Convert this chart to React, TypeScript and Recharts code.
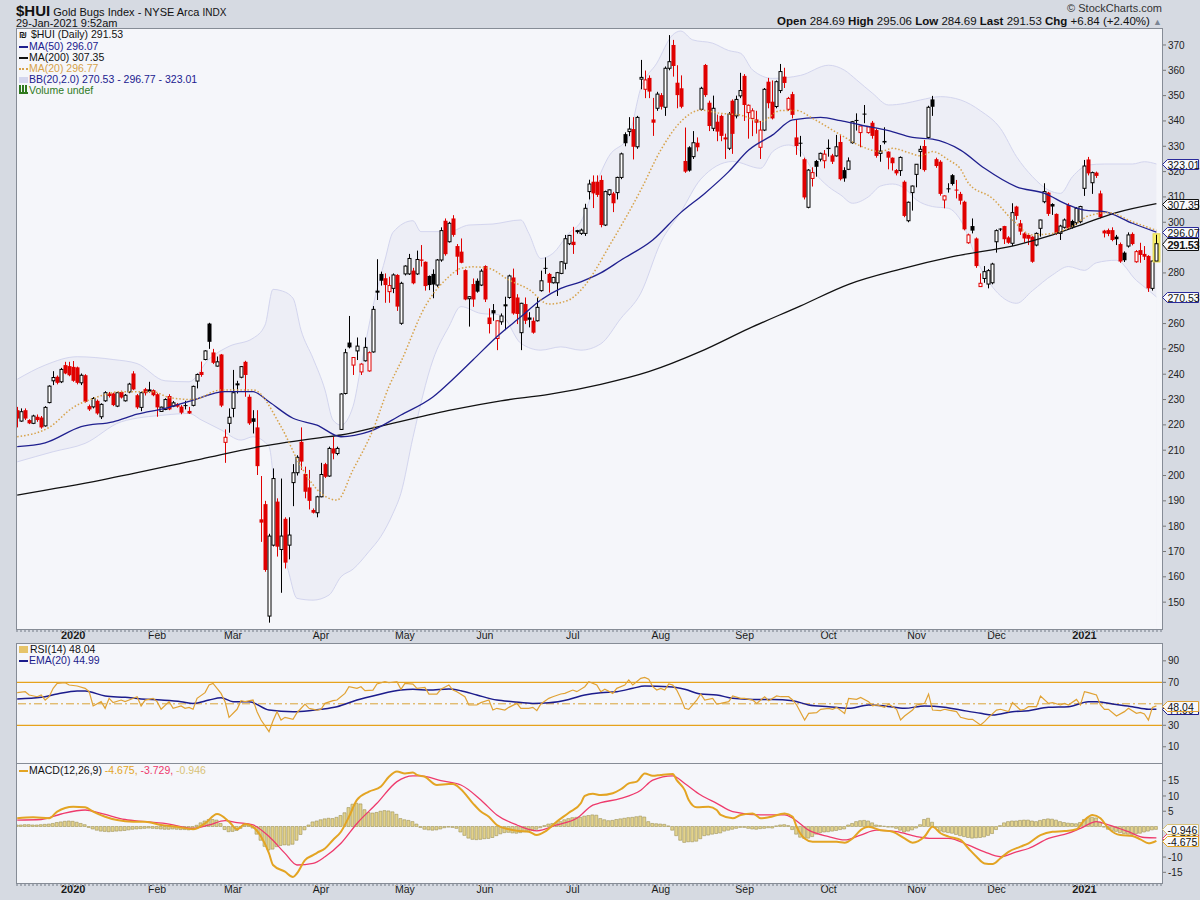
import React from "react";
import { ComposedChart, Bar, Line, Area, XAxis, YAxis, ReferenceLine } from "recharts";

const FONT = '"Liberation Sans", Arial, sans-serif';
const BG = "#d6dae2";
const PANEL = "#f5f6fa";
const FRAME = "#868c96";

// daily [open, high, low, close], 11-Dec-2019 .. 29-Jan-2021
const candles = [
  [225.8, 227.1, 219.0, 222.5], [221.5, 226.5, 221.2, 225.2], [225.8, 226.5, 221.9, 222.5], [221.9, 222.2, 220.3, 220.6], [220.6, 224.0, 220.3, 223.5],
  [223.2, 224.1, 221.2, 221.9], [222.9, 223.5, 218.5, 219.0], [219.6, 227.4, 219.3, 226.9], [228.8, 235.6, 228.5, 235.3], [237.4, 241.2, 235.7, 238.7],
  [239.0, 239.5, 236.0, 236.6], [237.0, 242.5, 236.5, 241.9], [243.6, 244.9, 240.0, 240.3], [243.2, 244.9, 239.2, 239.6], [242.9, 245.2, 237.0, 237.4],
  [242.7, 243.0, 236.0, 236.6], [236.6, 240.3, 235.7, 239.6], [239.6, 240.0, 228.8, 229.1], [227.4, 228.0, 225.5, 226.1], [227.1, 231.0, 226.5, 230.4],
  [229.5, 230.0, 224.0, 224.5], [223.2, 228.5, 222.3, 228.1], [229.5, 233.3, 229.1, 232.7], [232.4, 233.0, 230.8, 231.4], [232.4, 232.7, 227.4, 227.8],
  [227.4, 233.0, 227.0, 232.7], [233.0, 233.5, 230.4, 230.8], [229.5, 232.2, 229.2, 231.7], [233.0, 236.6, 232.5, 236.1], [240.3, 241.2, 233.7, 234.0],
  [231.7, 232.2, 226.3, 226.9], [226.9, 233.1, 225.4, 232.7], [234.1, 234.6, 231.6, 232.5], [234.0, 237.0, 232.7, 233.1], [233.7, 234.0, 231.3, 231.7],
  [232.1, 232.5, 223.2, 226.9], [225.3, 227.2, 225.1, 227.0], [226.1, 230.5, 225.8, 230.0], [231.4, 232.1, 225.8, 226.1], [227.4, 229.4, 227.0, 228.7],
  [228.2, 228.6, 226.8, 227.2], [227.2, 227.8, 224.2, 224.8], [227.8, 229.5, 226.1, 227.6], [225.5, 227.1, 224.3, 224.5], [227.7, 235.5, 227.3, 235.2],
  [237.3, 240.3, 234.4, 239.9], [240.9, 245.0, 239.0, 239.7], [245.8, 249.5, 245.5, 249.2], [260.0, 260.3, 250.0, 252.8], [248.6, 250.0, 244.0, 244.5],
  [243.2, 247.0, 243.0, 244.9], [247.8, 248.0, 227.0, 227.6], [213.1, 218.2, 205.0, 215.1], [220.6, 226.5, 216.9, 223.0], [226.5, 241.7, 223.0, 232.7],
  [236.1, 237.4, 232.4, 236.2], [238.8, 243.2, 238.4, 243.0], [244.9, 245.3, 231.1, 239.7], [231.1, 232.0, 220.0, 220.6], [222.6, 225.8, 216.6, 221.2],
  [219.0, 225.8, 200.2, 203.7], [182.7, 199.8, 173.8, 181.4], [188.7, 190.0, 162.0, 162.7], [144.5, 177.0, 141.9, 176.1], [172.5, 202.8, 172.0, 198.8],
  [189.7, 191.0, 168.0, 171.9], [170.8, 198.8, 153.7, 176.1], [182.9, 183.5, 163.3, 165.6], [172.5, 183.5, 166.9, 176.5], [197.2, 204.5, 187.9, 201.1],
  [201.1, 208.0, 200.0, 207.2], [213.3, 219.0, 202.2, 205.5], [200.6, 203.5, 191.0, 193.6], [195.3, 202.2, 186.6, 190.0], [186.4, 187.0, 185.0, 185.3],
  [185.3, 192.0, 183.5, 191.6], [191.6, 205.0, 191.4, 200.4], [204.5, 205.0, 199.0, 199.5], [199.8, 211.4, 199.5, 210.7], [210.7, 215.3, 206.4, 208.7],
  [208.7, 211.4, 208.0, 210.7], [218.2, 232.5, 218.0, 232.2], [232.4, 250.0, 232.0, 248.5], [252.5, 263.0, 250.2, 250.6], [243.6, 246.7, 239.7, 246.6],
  [249.2, 254.5, 245.6, 251.1], [240.9, 244.3, 239.7, 244.0], [245.3, 254.5, 245.0, 250.6], [241.3, 249.0, 241.0, 248.5], [248.8, 266.9, 248.5, 265.6],
  [273.0, 285.4, 269.3, 272.2], [279.6, 280.5, 275.0, 276.9], [277.9, 279.8, 268.2, 275.2], [272.6, 278.5, 268.2, 275.0], [273.9, 279.8, 272.0, 279.2],
  [279.2, 279.5, 265.0, 266.7], [260.1, 276.5, 259.5, 275.9], [279.6, 283.0, 279.0, 282.7], [279.6, 287.5, 279.2, 285.7], [280.9, 282.0, 275.5, 275.9],
  [279.6, 288.8, 279.2, 285.3], [285.3, 291.0, 282.5, 284.8], [284.4, 284.5, 273.0, 274.8], [278.8, 279.0, 273.2, 275.2], [279.6, 281.4, 270.0, 275.4],
  [275.2, 285.5, 274.5, 285.1], [285.1, 298.0, 284.4, 296.7], [300.6, 301.5, 286.8, 287.4], [292.3, 300.2, 292.0, 299.6], [301.5, 302.8, 294.3, 295.0],
  [290.6, 291.4, 279.2, 286.4], [288.4, 293.6, 283.8, 284.0], [281.1, 281.4, 269.2, 269.5], [269.8, 270.8, 258.8, 270.6], [275.6, 277.8, 266.6, 269.5],
  [276.9, 277.8, 272.2, 272.6], [275.2, 281.5, 274.8, 280.7], [282.7, 283.0, 268.5, 269.5], [262.4, 266.0, 256.1, 259.8], [265.3, 267.7, 261.1, 264.0],
  [254.1, 261.2, 249.5, 261.1], [260.7, 264.0, 259.5, 263.0], [267.6, 270.6, 257.4, 266.8], [270.3, 279.3, 269.8, 278.8], [278.2, 281.7, 263.5, 264.0],
  [270.3, 271.6, 259.8, 263.8], [256.4, 268.2, 249.5, 268.0], [267.7, 270.3, 259.8, 261.1], [262.4, 264.5, 258.5, 261.5], [261.1, 262.4, 256.0, 256.4],
  [261.1, 270.3, 260.8, 266.4], [273.0, 280.9, 272.6, 276.9], [282.0, 286.1, 279.6, 281.7], [279.6, 280.0, 272.2, 276.1], [276.1, 278.5, 275.8, 278.2],
  [276.1, 280.4, 270.9, 280.1], [279.8, 284.7, 279.5, 284.4], [283.8, 295.0, 281.4, 293.5], [291.5, 295.0, 291.0, 294.8], [292.3, 298.2, 287.5, 291.0],
  [296.3, 297.0, 295.5, 296.7], [295.6, 297.5, 295.0, 296.9], [295.6, 307.3, 294.6, 305.5], [312.1, 316.8, 309.0, 315.1], [316.0, 318.5, 305.6, 311.4],
  [316.0, 318.5, 310.0, 310.8], [316.7, 318.5, 298.0, 298.9], [298.9, 312.5, 298.5, 312.1], [311.0, 313.0, 310.5, 312.8], [311.4, 312.0, 304.0, 307.5],
  [311.7, 318.0, 309.0, 317.7], [317.7, 327.5, 317.0, 327.0], [334.8, 335.5, 330.0, 331.2], [335.8, 341.5, 334.0, 336.8], [336.8, 341.5, 324.8, 329.8],
  [329.8, 342.0, 329.0, 341.4], [356.5, 364.1, 352.5, 357.2], [352.5, 359.9, 349.0, 356.2], [357.0, 358.0, 349.0, 351.6], [340.6, 349.1, 334.1, 339.3],
  [345.0, 351.5, 344.0, 350.6], [350.2, 351.0, 344.5, 345.6], [345.4, 361.5, 342.0, 360.8], [360.8, 373.9, 360.0, 363.4], [370.0, 372.0, 357.5, 361.7],
  [355.1, 362.0, 345.0, 350.2], [352.9, 358.0, 345.0, 345.6], [324.2, 337.4, 319.5, 320.0], [329.6, 330.0, 320.0, 320.4], [325.9, 336.0, 325.0, 331.4],
  [331.4, 333.5, 328.0, 329.6], [344.6, 353.5, 344.0, 352.9], [362.1, 362.5, 349.5, 350.2], [347.2, 348.0, 336.0, 338.0], [337.1, 350.0, 336.0, 345.0],
  [339.7, 342.5, 332.0, 335.8], [342.0, 342.5, 332.0, 334.1], [333.5, 335.0, 325.0, 332.7], [329.2, 343.5, 328.5, 342.7], [348.0, 348.5, 327.0, 334.9],
  [342.0, 350.0, 341.0, 348.5], [349.9, 359.0, 349.0, 352.0], [357.8, 358.5, 340.0, 346.3], [343.3, 346.5, 333.0, 346.2], [341.0, 345.0, 334.0, 344.0],
  [340.6, 344.0, 335.0, 339.3], [329.6, 340.0, 325.0, 336.4], [336.4, 353.0, 336.0, 352.5], [355.5, 357.0, 345.0, 347.0], [347.6, 356.0, 340.6, 341.0],
  [345.7, 356.0, 345.0, 355.5], [352.0, 362.5, 351.0, 359.5], [357.5, 361.0, 353.0, 355.0], [344.6, 349.5, 344.0, 348.9], [350.6, 351.5, 341.0, 342.4],
  [333.5, 340.6, 326.6, 330.1], [331.4, 334.1, 325.9, 331.1], [324.9, 325.5, 309.0, 309.8], [305.9, 321.0, 305.5, 320.6], [317.3, 321.7, 314.1, 319.6],
  [324.2, 324.6, 318.0, 321.9], [324.9, 327.5, 324.0, 327.2], [324.3, 328.5, 321.3, 326.9], [329.4, 332.7, 325.9, 328.9], [326.4, 327.0, 323.0, 323.9],
  [326.2, 334.5, 325.9, 329.8], [331.7, 334.5, 316.5, 317.0], [320.6, 321.7, 316.0, 317.3], [320.9, 325.6, 320.6, 324.2], [331.4, 340.0, 331.0, 339.7],
  [340.4, 343.0, 336.2, 340.1], [335.4, 338.1, 329.6, 338.0], [342.9, 346.3, 339.1, 342.7], [335.4, 338.0, 335.0, 337.7], [339.3, 340.0, 333.0, 334.1],
  [336.4, 337.0, 325.5, 326.2], [327.2, 330.5, 323.9, 328.1], [332.1, 337.5, 330.8, 331.5], [327.9, 328.0, 320.9, 325.5], [325.5, 325.6, 320.4, 323.3],
  [320.6, 321.0, 318.5, 319.3], [320.4, 326.0, 318.3, 325.6], [316.0, 316.5, 302.0, 302.5], [300.6, 308.2, 300.0, 307.9], [311.7, 314.5, 304.6, 314.3],
  [318.9, 323.0, 313.8, 322.9], [327.9, 330.2, 321.0, 328.8], [330.1, 332.5, 320.0, 320.6], [333.5, 346.0, 333.0, 345.4], [348.5, 349.9, 342.0, 345.6],
  [324.9, 325.5, 321.5, 322.2], [323.9, 324.5, 310.5, 311.2], [308.8, 310.6, 305.5, 310.4], [313.4, 315.4, 311.7, 313.0], [318.6, 319.0, 314.5, 315.1],
  [312.9, 316.7, 309.4, 312.7], [311.2, 312.0, 307.0, 308.5], [308.1, 308.5, 296.8, 297.2], [291.9, 295.5, 291.5, 295.0], [298.5, 301.5, 295.6, 296.7],
  [293.6, 294.0, 282.0, 282.7], [274.6, 279.8, 274.5, 275.9], [277.8, 282.7, 276.1, 280.5], [275.6, 281.5, 273.9, 280.9], [276.1, 284.0, 275.5, 283.5],
  [292.3, 297.2, 288.0, 296.7], [297.5, 297.6, 296.5, 297.2], [298.5, 298.6, 291.4, 293.3], [294.0, 294.5, 291.5, 291.9], [291.7, 307.5, 290.6, 303.8],
  [306.2, 306.5, 301.0, 302.5], [299.6, 300.9, 295.0, 296.3], [295.6, 296.0, 292.0, 293.6], [295.0, 295.5, 291.0, 293.5], [294.3, 294.5, 284.0, 284.4],
  [291.0, 296.0, 290.5, 295.6], [297.6, 301.0, 294.3, 300.9], [308.1, 315.4, 307.5, 312.1], [311.7, 312.0, 302.5, 303.3], [307.2, 307.5, 302.9, 306.2],
  [303.3, 303.5, 295.0, 295.6], [295.6, 299.0, 293.0, 298.5], [298.0, 301.5, 297.5, 300.9], [306.8, 307.5, 297.0, 297.6], [300.5, 301.0, 297.5, 298.0],
  [299.8, 306.0, 299.0, 305.5], [300.2, 306.5, 299.6, 306.2], [313.4, 324.6, 310.4, 322.2], [324.8, 325.8, 318.5, 319.3], [315.6, 320.0, 311.2, 319.6],
  [319.6, 320.0, 317.5, 318.3], [311.4, 312.5, 301.5, 302.0], [296.7, 297.0, 294.0, 295.6], [296.9, 297.5, 294.5, 295.4], [296.9, 298.0, 292.5, 293.0],
  [294.3, 295.0, 291.0, 293.3], [291.4, 292.0, 284.0, 284.5], [288.0, 288.5, 284.3, 285.0], [290.6, 296.0, 290.0, 295.0], [295.4, 296.0, 290.9, 291.4],
  [284.4, 289.0, 284.0, 288.4], [289.0, 291.9, 284.0, 287.1], [287.5, 290.6, 285.1, 286.4], [286.7, 287.0, 272.5, 273.9], [273.9, 284.9, 273.0, 284.69],
  [284.69, 295.06, 284.69, 291.53],
];

// overlays as [day, value]
const ma50 = [
  [0, 211.4], [7, 212.9], [16, 219.3], [24, 221.2], [30, 224.2], [37, 226.5], [44, 229.8], [52, 233.1], [59, 233.1], [63, 229.1],
  [69, 222.6], [75, 219.9], [81, 215.3], [88, 217.3], [96, 223.9], [104, 231], [109, 238], [114, 245.6], [120, 254.8], [126, 262.7],
  [131, 269.3], [136, 273.9], [141, 276.5], [146, 280], [151, 285], [159, 293], [166, 303.8], [172, 311.4], [178, 320], [183, 328.5],
  [189, 334.5], [194, 340.4], [201, 341.4], [206, 340.1], [211, 338.4], [218, 336.2], [224, 333.5], [229, 332.8], [236, 328.5], [242, 321.3],
  [250, 314], [257, 311.4], [263, 306.8], [267, 304.8], [272, 304.2], [279, 299.6], [285, 296.07],
];
const ma200 = [
  [0, 192.3], [21, 198.2], [46, 206.5], [61, 211.5], [76, 215], [81, 216], [91, 219.5], [109, 226], [121, 229.5], [133, 232],
  [146, 236], [158, 241], [171, 249], [183, 258], [196, 267], [208, 275.5], [221, 281.5], [234, 286.4], [250, 291], [258, 294.5],
  [267, 299.5], [275, 303.8], [285, 307.35],
];
const ma20 = [
  [0, 215.3], [8, 219], [14, 226.9], [19, 230.4], [26, 233.1], [34, 233.1], [38, 230.8], [44, 230], [51, 233.8], [59, 233.8],
  [66, 219.3], [71, 203.5], [76, 193], [80, 190.3], [84, 202.2], [89, 218], [93, 235.1], [96, 244.9], [102, 266.6], [108, 278.5],
  [111, 281.8], [114, 282.4], [118, 281.8], [123, 277.2], [128, 273.5], [133, 267.7], [138, 269.3], [141, 273.2], [149, 293], [156, 312.7],
  [161, 328.5], [166, 339.7], [171, 344.3], [176, 343], [181, 342.3], [186, 339.7], [191, 344.1], [195, 344.1], [199, 341], [206, 334.5],
  [211, 330.1], [216, 327.9], [219, 329.2], [223, 327.5], [226, 326.2], [229, 327.9], [233, 324.6], [236, 321], [238, 315.4], [244, 309.4],
  [249, 300.9], [254, 295], [259, 295.6], [264, 298.5], [268, 302.5], [273, 303.8], [279, 300.2], [285, 296.77],
];
const bbUpper = [
  [0, 238], [7, 243.6], [15, 246.9], [24, 245.8], [30, 244.2], [37, 237.4], [43, 237], [48, 246], [53, 251], [59, 254.2],
  [62, 259.4], [64, 273.5], [66, 273], [69, 270], [71, 257.4], [74, 246.3], [77, 233.8], [79, 221.9], [81, 219.9], [84, 227.2],
  [86, 243], [89, 266.7], [92, 285.1], [94, 296], [99, 300.6], [101, 296.3], [108, 296.3], [113, 298.9], [119, 299.3], [126, 300.9],
  [128, 295.6], [131, 285.7], [134, 287.7], [138, 295.6], [141, 300.2], [144, 312], [148, 326], [153, 334], [156, 352.9], [160, 362.8],
  [164, 374], [166, 375.5], [169, 372], [174, 370.7], [178, 367.8], [181, 366.7], [184, 360.1], [189, 356.8], [196, 358], [203, 362],
  [207, 360], [210, 356.2], [214, 350.9], [218, 346.3], [222, 346.9], [226, 348.3], [231, 349.6], [236, 348.3], [241, 344], [246, 337],
  [250, 325.9], [254, 318], [258, 312.7], [261, 311.4], [264, 318], [268, 322.6], [272, 323], [279, 323], [282, 323.9], [285, 323.01],
];
const bbLower = [
  [0, 205.4], [9, 209.4], [17, 212.7], [26, 221.2], [37, 223.9], [43, 224.5], [46, 222], [51, 218], [56, 214], [59, 215.3],
  [63, 211.4], [65, 183.7], [68, 161.4], [70, 151.5], [74, 150.8], [78, 152.8], [81, 160], [84, 163], [88, 170], [91, 176],
  [94, 185], [96, 193], [99, 215], [104, 245.6], [108, 258.8], [111, 266.7], [116, 264], [121, 263.4], [126, 252.2], [131, 249.5],
  [136, 250.8], [141, 249.5], [146, 252], [151, 262], [156, 272], [161, 292], [166, 304], [171, 317], [179, 324], [186, 321.3],
  [189, 327.9], [193, 330.5], [196, 328], [199, 320.6], [203, 314], [206, 310.8], [209, 307.5], [213, 310.1], [216, 314.3], [219, 315.1],
  [222, 313.4], [225, 308.8], [229, 306.2], [233, 305.5], [236, 300.9], [241, 282], [246, 271], [250, 268], [254, 273], [259, 279.2],
  [263, 282.5], [267, 281], [270, 284], [275, 285], [280, 277], [283, 273.2], [285, 270.53],
];

const rsi = [
  [0, 60.4], [2, 61.3], [3, 58.2], [5, 56.6], [6, 58.2], [7, 53.5], [8, 56.6], [9, 64.4], [10, 69.0], [12, 69.6],
  [13, 67.5], [15, 66.6], [17, 64.4], [18, 61.3], [19, 48.0], [21, 52.0], [22, 45.8], [23, 55.1], [24, 51.1], [26, 53.5],
  [27, 52.0], [28, 53.5], [30, 56.6], [31, 48.0], [32, 53.5], [34, 55.1], [35, 52.0], [36, 44.9], [38, 52.0], [39, 45.8],
  [41, 48.0], [42, 45.8], [43, 46.7], [44, 44.9], [45, 55.1], [47, 60.4], [48, 67.5], [49, 69.0], [51, 59.7], [52, 52.0],
  [53, 37.4], [55, 44.9], [56, 52.9], [57, 52.0], [59, 53.5], [60, 42.7], [61, 34.9], [63, 24.1], [64, 34.3], [65, 42.7],
  [66, 34.9], [67, 37.4], [69, 35.5], [70, 41.7], [72, 49.8], [73, 45.8], [75, 44.2], [76, 44.9], [77, 50.4], [79, 52.9],
  [80, 53.5], [82, 59.7], [83, 65.9], [85, 64.4], [86, 65.9], [87, 62.2], [89, 62.8], [90, 68.4], [92, 70.6], [93, 69.6],
  [95, 70.6], [96, 63.5], [97, 69.0], [99, 68.4], [100, 64.4], [102, 65.3], [103, 59.1], [105, 59.1], [106, 63.5], [108, 67.5],
  [109, 62.8], [110, 61.3], [112, 56.6], [113, 48.9], [115, 48.9], [116, 51.1], [118, 53.5], [119, 44.2], [120, 45.8], [122, 44.2],
  [123, 46.7], [125, 50.4], [126, 45.8], [128, 45.8], [129, 46.7], [130, 43.6], [131, 49.8], [133, 55.1], [134, 56.6], [136, 59.1],
  [137, 59.7], [139, 62.8], [140, 61.3], [142, 65.9], [143, 70.6], [145, 67.5], [146, 61.3], [147, 63.5], [149, 59.7], [150, 64.4],
  [152, 67.5], [153, 72.2], [154, 67.5], [156, 73.7], [157, 74.6], [158, 72.8], [159, 65.9], [160, 62.8], [161, 64.4], [162, 62.8],
  [163, 68.4], [164, 67.5], [165, 62.8], [166, 55.1], [167, 45.8], [168, 44.9], [170, 53.5], [171, 59.1], [172, 53.5], [174, 55.1],
  [175, 49.8], [176, 50.4], [178, 52.0], [179, 57.3], [181, 55.1], [182, 55.1], [184, 53.5], [185, 50.4], [187, 56.6], [188, 52.9],
  [190, 57.3], [191, 56.6], [193, 56.6], [194, 53.5], [195, 48.9], [197, 34.9], [198, 41.1], [200, 41.7], [201, 44.9], [203, 45.8],
  [204, 44.9], [205, 46.7], [207, 41.1], [208, 55.1], [210, 54.1], [211, 56.0], [213, 52.0], [214, 48.0], [215, 48.9], [217, 46.7],
  [218, 49.8], [220, 44.9], [221, 34.9], [222, 38.6], [224, 44.2], [225, 48.9], [227, 50.4], [228, 59.1], [229, 44.2], [231, 43.6],
  [232, 44.9], [233, 44.2], [235, 42.7], [236, 37.4], [238, 35.5], [239, 35.5], [241, 30.3], [242, 33.4], [243, 37.4], [245, 44.2],
  [246, 44.9], [248, 42.7], [249, 51.1], [251, 44.2], [252, 44.9], [253, 47.3], [255, 47.3], [256, 57.3], [258, 50.4], [259, 51.1],
  [261, 48.9], [262, 50.4], [263, 48.9], [265, 54.1], [266, 48.9], [267, 61.3], [268, 60.4], [270, 58.2], [271, 48.9], [272, 44.9],
  [273, 44.9], [275, 38.6], [277, 42.7], [278, 45.8], [280, 41.1], [281, 42.0], [282, 40.5], [283, 34.9], [284, 46.7], [285, 48.04],
];
const rsiEma = [
  [0, 54.5], [6, 56.0], [10, 59.1], [15, 61.9], [17, 61.9], [22, 57.3], [27, 56.0], [31, 54.5], [36, 53.5], [41, 52.0],
  [44, 50.4], [48, 53.5], [51, 55.7], [54, 52.0], [58, 52.0], [63, 44.2], [69, 42.7], [73, 43.6], [76, 44.9], [80, 47.3],
  [85, 53.5], [90, 58.2], [96, 62.8], [99, 63.5], [103, 62.8], [108, 63.8], [111, 62.2], [115, 58.2], [120, 53.5], [124, 52.0],
  [129, 50.4], [133, 51.0], [138, 54.1], [142, 58.2], [146, 60.4], [150, 61.3], [154, 64.4], [157, 66.6], [163, 65.9], [167, 63.5],
  [171, 59.1], [175, 58.2], [179, 55.1], [184, 54.1], [189, 54.1], [194, 52.9], [198, 48.9], [203, 47.3], [208, 45.8], [213, 48.9],
  [217, 48.0], [222, 45.8], [227, 48.0], [232, 46.7], [236, 44.2], [241, 41.1], [244, 39.6], [249, 42.7], [253, 43.6], [258, 46.7],
  [263, 47.3], [268, 52.0], [270, 52.0], [274, 49.8], [279, 47.3], [283, 44.9], [285, 44.99],
];

const macd = [
  [0, 2.7], [4, 3.0], [8, 2.7], [10, 4.9], [14, 6.5], [17, 6.3], [19, 4.9], [22, 3.2], [25, 2.1], [29, 1.6],
  [32, 1.6], [36, 0.5], [40, -0.1], [44, -0.9], [47, 1.0], [50, 4.1], [53, 1.6], [55, -0.9], [57, 0.8], [59, -0.1],
  [61, -3.3], [63, -8.8], [64, -12.6], [67, -14.8], [69, -16.5], [70, -15.3], [72, -11.0], [74, -9.4], [75, -8.6], [77, -7.2],
  [79, -4.4], [81, -1.7], [83, 3.2], [85, 8.7], [88, 11.4], [91, 13.1], [93, 16.3], [95, 18.0], [97, 17.4], [99, 17.7],
  [100, 16.9], [102, 16.3], [105, 13.6], [108, 13.9], [109, 13.9], [111, 12.2], [114, 7.6], [116, 4.9], [118, 3.2], [120, 0.5],
  [123, -0.9], [125, -1.4], [128, -1.7], [130, -2.8], [132, -1.7], [135, 1.6], [138, 4.5], [141, 7.6], [142, 10.0], [144, 10.7],
  [146, 10.3], [149, 10.9], [151, 12.2], [153, 14.1], [155, 14.7], [157, 17.4], [159, 16.6], [161, 16.9], [164, 17.2], [165, 15.2],
  [167, 11.9], [168, 8.7], [170, 6.3], [173, 6.5], [175, 5.4], [176, 3.8], [179, 2.7], [181, 3.8], [184, 4.3], [186, 2.7],
  [188, 3.0], [192, 4.3], [194, 3.2], [195, -0.1], [197, -3.9], [199, -5.0], [202, -5.0], [205, -5.0], [207, -5.3], [209, -3.9],
  [211, -1.2], [213, -0.1], [216, -1.2], [219, -1.7], [222, -3.9], [224, -5.3], [227, -3.3], [229, -0.1], [231, -2.2], [233, -3.3],
  [236, -4.4], [238, -7.2], [240, -9.9], [242, -12.1], [244, -12.3], [246, -10.4], [248, -8.3], [251, -6.6], [253, -5.5], [256, -2.8],
  [259, -1.7], [262, -1.5], [265, -0.9], [267, 2.1], [269, 3.8], [271, 2.7], [273, -0.6], [276, -2.8], [279, -3.1], [281, -4.2],
  [283, -5.5], [285, -4.675],
];
const signal = [
  [0, 2.1], [6, 2.3], [11, 4.1], [17, 5.4], [21, 4.3], [27, 2.3], [32, 1.6], [38, 0.8], [44, -0.6], [48, 0.5],
  [52, 1.9], [55, 1.3], [59, 0.5], [63, -3.3], [67, -8.8], [70, -12.6], [74, -12.1], [77, -9.9], [81, -5.5], [85, 1.0],
  [90, 7.6], [95, 14.7], [99, 16.6], [101, 16.6], [106, 15.0], [111, 13.6], [116, 8.7], [120, 3.8], [125, 0.5], [130, -1.4],
  [135, 0.5], [140, 2.7], [144, 7.0], [146, 7.8], [151, 9.2], [156, 11.9], [159, 15.2], [164, 16.6], [167, 14.1], [171, 10.3],
  [175, 7.6], [179, 4.9], [186, 3.8], [192, 3.8], [194, 2.7], [198, -1.2], [203, -3.3], [207, -4.4], [211, -2.8], [215, -1.2],
  [220, -1.7], [225, -3.3], [229, -3.9], [233, -3.9], [238, -6.1], [242, -8.3], [246, -9.9], [250, -8.3], [253, -7.2], [258, -3.9],
  [263, -2.2], [266, -0.6], [270, 1.6], [273, 0.5], [278, -1.7], [282, -3.6], [285, -3.729],
];
const histogram = [
  0.5, 0.5, 0.6, 0.6, 0.5, 0.5, 0.6, 0.7, 0.8, 1.0,
  1.3, 1.5, 1.7, 1.8, 1.7, 1.4, 1.0, 0.6, -0.3, -0.8,
  -1.2, -1.5, -1.6, -1.7, -1.6, -1.5, -1.4, -1.3, -1.1, -0.9,
  -0.8, -0.7, -0.6, -0.5, -0.6, -0.7, -0.8, -0.9, -0.9, -0.8,
  -0.9, -1.0, -1.0, -1.1, -0.6, 0.4, 1.2, 1.8, 2.3, 2.3,
  2.1, 1.0, -1.0, -1.7, -1.6, -1.3, -0.6, 0.3, 0.6, -0.5,
  -2.5, -4.5, -6.5, -7.7, -7.4, -6.6, -6.2, -6.0, -6.1, -5.8,
  -4.5, -2.6, -1.1, 0.5, 1.5, 1.8, 2.2, 2.5, 2.7, 2.6,
  3.0, 3.6, 4.5, 6.2, 7.3, 7.6, 7.4, 5.5, 4.6, 4.4,
  4.6, 5.0, 5.2, 5.1, 4.8, 4.0, 2.6, 2.2, 2.0, 1.6,
  0.8, -0.3, -0.9, -1.1, -1.2, -1.1, -0.8, -0.4, -0.2, -0.3,
  -0.6, -1.8, -2.9, -3.8, -4.2, -4.3, -4.2, -4.0, -3.9, -3.6,
  -3.0, -2.4, -2.0, -1.9, -2.1, -2.2, -2.0, -1.7, -1.5, -1.2,
  -0.9, -0.4, 0.3, 0.8, 1.0, 1.2, 1.6, 2.2, 2.6, 2.9,
  3.0, 3.0, 3.4, 3.6, 3.8, 3.7, 2.6, 2.2, 1.9, 2.0,
  2.3, 2.5, 2.7, 2.9, 3.0, 3.2, 3.4, 3.1, 1.6, 1.0,
  0.9, 0.8, 0.7, 0.2, -1.2, -3.0, -4.5, -5.2, -5.0, -5.0,
  -4.8, -4.0, -3.0, -2.8, -2.5, -2.3, -2.1, -1.5, -1.2, -0.9,
  -0.6, -0.3, -0.3, -0.6, -0.8, -0.9, -0.7, -0.6, -0.4, -0.5,
  0.2, 0.5, 0.6, 0.3, -1.0, -2.5, -3.5, -3.9, -3.8, -3.3,
  -2.5, -2.0, -1.8, -1.7, -1.5, -1.3, -1.0, -0.8, 0.5, 1.0,
  1.6, 1.9, 2.0, 1.8, 1.2, 0.5, 0.3, 0.1, -0.2, -0.2,
  -0.6, -1.2, -1.8, -1.5, -1.1, -0.5, 0.6, 2.3, 2.7, 1.4,
  -0.4, -1.5, -1.8, -2.0, -2.2, -2.6, -3.0, -3.3, -3.6, -3.8,
  -3.7, -3.6, -3.4, -2.9, -2.3, -1.0, 0.3, 1.2, 1.6, 1.8,
  1.8, 2.0, 2.1, 2.1, 1.8, 1.6, 2.0, 2.3, 2.5, 2.4,
  2.1, 1.6, 1.3, 1.1, 1.0, 0.9, 1.3, 2.3, 2.9, 3.0,
  2.8, 1.4, -0.2, -0.9, -1.3, -1.6, -2.0, -2.3, -2.5, -2.6,
  -2.4, -2.2, -1.8, -1.5, -1.1, -0.946,
];

const monthDays = [14, 35, 54, 76, 97, 117, 139, 161, 182, 203, 225, 245, 267];
const monthNames = ["2020", "Feb", "Mar", "Apr", "May", "Jun", "Jul", "Aug", "Sep", "Oct", "Nov", "Dec", "2021"];
const priceTicks = [150, 160, 170, 180, 190, 200, 210, 220, 230, 240, 250, 260, 280, 300, 310, 320, 330, 340, 350, 360, 370];
const rsiTicks = [10, 30, 70, 90];
const macdTicks = [-15, -10, 5, 10, 15];

// right-edge value tags [value shown, position value, outline colour, bold]
const priceTags: [string, number, string, boolean][] = [
  ["323.01", 323.01, "#2a2a9a", false],
  ["307.35", 307.35, "#111111", false],
  ["270.53", 270.53, "#2a2a9a", false],
  ["296.07", 296.3, "#2a2a9a", false],
  ["291.53", 291.53, "#111111", true],
];
const rsiTags: [string, number, string, boolean][] = [
  ["44.99", 44.99, "#1c1c8c", false],
  ["48.04", 48.04, "#e0a234", false],
];
const macdTags: [string, number, string, boolean][] = [
  ["-3.729", -3.729, "#ee3a6c", false],
  ["-0.946", -0.946, "#d8c277", false],
  ["-4.675", -4.675, "#e3a423", false],
];

const LAST = candles.length - 1;
const X_DOMAIN = [-0.3, 286.4];
const PRICE_DOMAIN = [139.4, 376.7];
const RSI_DOMAIN = [-5.1, 106.6];
const MACD_DOMAIN = [-18.5, 20.8];

function put(rows: any[], pts: number[][], key: string) {
  pts.forEach(([d, v]) => {
    if (rows[d]) rows[d][key] = v;
  });
  return rows;
}

const priceRows: any[] = candles.map(([o, h, l, c], d) => ({ d, o, h, l, c, prev: d > 0 ? candles[d - 1][3] : o }));
put(priceRows, ma50, "ma50");
put(priceRows, ma200, "ma200");
put(priceRows, ma20, "ma20");
put(priceRows, bbUpper, "bbu");
put(priceRows, bbLower, "bbl");

const rsiRows: any[] = candles.map((_, d) => ({ d }));
put(rsiRows, rsi, "rsi");
put(rsiRows, rsiEma, "ema");

const macdRows: any[] = histogram.map((v, d) => ({ d, hist: v }));
put(macdRows, macd, "macd");
put(macdRows, signal, "sig");

function Candle(props: any) {
  const { x, y, width, height, payload } = props;
  if (!payload || x == null) return null;
  const { o, h, l, c, prev, d } = payload;
  const top = Math.min(y, y + height);
  const span = Math.abs(height);
  const k = h > l ? span / (h - l) : 0;
  const py = (v: number) => top + (h - v) * k;
  const cx = Math.round(x + width / 2) + 0.5;
  const color = c >= prev ? "#000000" : "#e00000";
  const hollow = c > o;
  const bt = py(Math.max(o, c));
  const bb = Math.max(py(Math.min(o, c)), bt + 1);
  return (
    <g>
      {d === LAST && (
        <rect x={cx - 3.5} y={py(h) - 1} width={7} height={py(l) - py(h) + 2} fill="#f7ef6e" stroke="#e2d445" strokeWidth={0.8} />
      )}
      <line x1={cx} x2={cx} y1={py(h)} y2={py(l)} stroke={color} strokeWidth={1} />
      {hollow ? (
        <rect x={cx - 1.5} y={bt} width={3} height={Math.max(bb - bt, 1)} fill="#ffffff" stroke={color} strokeWidth={1} />
      ) : (
        <rect x={cx - 2} y={bt} width={4} height={Math.max(bb - bt, 1)} fill={color} />
      )}
    </g>
  );
}

function MonthTick(props: any) {
  const { x, y, payload } = props;
  const i = monthDays.indexOf(payload.value);
  const label = monthNames[i] || "";
  const bold = label.length === 4;
  return (
    <text x={x} y={y + 10} textAnchor="middle" fontSize={bold ? 11 : 10.5} fontWeight={bold ? 700 : 400} fill="#1a1a1a" fontFamily={FONT}>
      {label}
    </text>
  );
}

function tag(text: string, stroke: string, bold = false) {
  return (props: any) => {
    const vb = props.viewBox || {};
    const x = (vb.x || 0) + (vb.width || 0) + 0.5;
    const y = Math.round(vb.y || 0) + 0.5;
    const hh = bold ? 6 : 5;
    return (
      <g>
        <path d={`M${x},${y} L${x + 5},${y - hh} H${x + 36} V${y + hh} H${x + 5} Z`} fill="#f8f9fc" stroke={stroke} strokeWidth={1} />
        <text x={x + 5} y={y + 4} fontSize={bold ? 11 : 10.5} fontWeight={bold ? 700 : 400} fill="#111" fontFamily={FONT} letterSpacing={bold ? -0.3 : 0}>
          {text}
        </text>
      </g>
    );
  };
}

const axisTick = { fontSize: 10, fill: "#222", fontFamily: FONT };

// transparent layer drawn above the axes so the value tags cover the tick labels
function TagLayer({ top, height, marginTop, domain, tags }: any) {
  return (
    <div style={{ position: "absolute", left: 0, top, zIndex: 4, pointerEvents: "none" }}>
      <ComposedChart width={1200} height={height} data={[{ d: 0 }, { d: LAST }]} margin={{ top: marginTop, right: 0, bottom: 0, left: 16 }}>
        <XAxis dataKey="d" type="number" domain={X_DOMAIN} hide />
        <YAxis yAxisId="t" orientation="right" width={38} type="number" domain={domain} allowDataOverflow tick={false} axisLine={false} tickLine={false} />
        {tags.map(([text, v, stroke, bold]: any) => (
          <ReferenceLine key={text} yAxisId="t" y={v} stroke="none" ifOverflow="visible" label={tag(text, stroke, bold)} />
        ))}
      </ComposedChart>
    </div>
  );
}

function Panel({ top, height }: { top: number; height: number }) {
  return <div style={{ position: "absolute", left: 16, top, width: 1146, height, background: PANEL, zIndex: 0 }} />;
}
function Frame({ top, height }: { top: number; height: number }) {
  return (
    <div
      style={{ position: "absolute", left: 16, top, width: 1147, height: height + 1, boxSizing: "border-box", border: `1px solid ${FRAME}`, zIndex: 2, pointerEvents: "none" }}
    />
  );
}

const dash = (color: string, dotted = false) => (
  <span style={{ display: "inline-block", width: 9, height: 0, borderTop: `2px ${dotted ? "dotted" : "solid"} ${color}`, verticalAlign: "middle", marginRight: 1 }} />
);

export default function App() {
  return (
    <div style={{ position: "absolute", left: 0, top: 0, width: 1200, height: 900, background: BG, fontFamily: FONT, overflow: "hidden" }}>
      {/* header */}
      <div style={{ position: "absolute", left: 16, top: 2, fontSize: 11, color: "#111", whiteSpace: "nowrap" }}>
        <b style={{ fontSize: 15 }}>$HUI</b> Gold Bugs Index - NYSE Arca <span style={{ fontSize: 10 }}>INDX</span>
      </div>
      <div style={{ position: "absolute", left: 16, top: 17, fontSize: 11, color: "#111" }}>29-Jan-2021 9:52am</div>
      <div style={{ position: "absolute", right: 38, top: 2, fontSize: 11, color: "#333" }}>© StockCharts.com</div>
      <div style={{ position: "absolute", right: 38, top: 15, fontSize: 11.5, color: "#111", whiteSpace: "nowrap" }}>
        <b>Open</b> 284.69 <b>High</b> 295.06 <b>Low</b> 284.69 <b>Last</b> 291.53 <b>Chg</b> +6.84 (+2.40%){" "}
        <span style={{ color: "#7c8594", fontSize: 9 }}>▲</span>
      </div>

      <Panel top={28} height={601} />
      <Panel top={643} height={120} />
      <Panel top={763} height={120} />

      {/* price panel */}
      <div style={{ position: "absolute", left: 0, top: 0, zIndex: 1 }}>
        <ComposedChart width={1200} height={643} data={priceRows} margin={{ top: 28, right: 0, bottom: 0, left: 16 }}>
          <XAxis dataKey="d" type="number" domain={X_DOMAIN} ticks={monthDays} interval={0} allowDataOverflow height={14} tickLine={false} axisLine={false} tickSize={0} tickMargin={0} tick={<MonthTick />} />
          <YAxis yAxisId="p" orientation="right" width={38} type="number" domain={PRICE_DOMAIN} ticks={priceTicks} interval={0} allowDataOverflow axisLine={false} tickSize={4} tickMargin={2} tickLine={{ stroke: "#777" }} tick={axisTick} />
          <Area yAxisId="p" dataKey="bbu" type="monotone" connectNulls baseValue={139.4} stroke="#d3d5ee" strokeWidth={1} fill="#edeef6" fillOpacity={1} isAnimationActive={false} />
          <Area yAxisId="p" dataKey="bbl" type="monotone" connectNulls baseValue={139.4} stroke="#d3d5ee" strokeWidth={1} fill={PANEL} fillOpacity={1} isAnimationActive={false} />
          <Line yAxisId="p" dataKey="ma200" type="monotone" connectNulls stroke="#111111" strokeWidth={1.3} dot={false} isAnimationActive={false} />
          <Line yAxisId="p" dataKey="ma50" type="monotone" connectNulls stroke="#20208f" strokeWidth={1.3} dot={false} isAnimationActive={false} />
          <Line yAxisId="p" dataKey="ma20" type="monotone" connectNulls stroke="#d7a24a" strokeWidth={1.5} strokeDasharray="1.5 2" dot={false} isAnimationActive={false} />
          <Bar yAxisId="p" dataKey={(r: any) => [r.l, r.h]} barSize={4} shape={(p: any) => <Candle {...p} />} isAnimationActive={false} />
        </ComposedChart>
      </div>

      {/* RSI panel */}
      <div style={{ position: "absolute", left: 0, top: 643, zIndex: 1 }}>
        <ComposedChart width={1200} height={120} data={rsiRows} margin={{ top: 0, right: 0, bottom: 0, left: 16 }}>
          <XAxis dataKey="d" type="number" domain={X_DOMAIN} allowDataOverflow hide />
          <YAxis yAxisId="r" orientation="right" width={38} type="number" domain={RSI_DOMAIN} ticks={rsiTicks} interval={0} allowDataOverflow axisLine={false} tickSize={4} tickMargin={2} tickLine={{ stroke: "#777" }} tick={axisTick} />
          <ReferenceLine yAxisId="r" y={70} stroke="#e6a21c" strokeWidth={1.3} />
          <ReferenceLine yAxisId="r" y={30} stroke="#e6a21c" strokeWidth={1.3} />
          <ReferenceLine yAxisId="r" y={50} stroke="#d9a437" strokeWidth={1} strokeDasharray="8 3 2 3" />
          <Line yAxisId="r" dataKey="ema" type="monotone" connectNulls stroke="#1c1c8c" strokeWidth={1.5} dot={false} isAnimationActive={false} />
          <Line yAxisId="r" dataKey="rsi" type="linear" connectNulls stroke="#e0a234" strokeWidth={1.2} dot={false} isAnimationActive={false} />
        </ComposedChart>
      </div>

      {/* MACD panel */}
      <div style={{ position: "absolute", left: 0, top: 763, zIndex: 1 }}>
        <ComposedChart width={1200} height={137} data={macdRows} margin={{ top: 0, right: 0, bottom: 3, left: 16 }}>
          <XAxis dataKey="d" type="number" domain={X_DOMAIN} ticks={monthDays} interval={0} allowDataOverflow height={14} tickLine={false} axisLine={false} tickSize={0} tickMargin={0} tick={<MonthTick />} />
          <YAxis yAxisId="m" orientation="right" width={38} type="number" domain={MACD_DOMAIN} ticks={macdTicks} interval={0} allowDataOverflow axisLine={false} tickSize={4} tickMargin={2} tickLine={{ stroke: "#777" }} tick={axisTick} />
          <Bar yAxisId="m" dataKey="hist" barSize={3} fill="#e2d28c" stroke="#9d9258" strokeWidth={0.6} isAnimationActive={false} />
          <Line yAxisId="m" dataKey="sig" type="monotone" connectNulls stroke="#ee3a6c" strokeWidth={1.3} dot={false} isAnimationActive={false} />
          <Line yAxisId="m" dataKey="macd" type="monotone" connectNulls stroke="#e3a423" strokeWidth={2} dot={false} isAnimationActive={false} />
        </ComposedChart>
      </div>

      <Frame top={28} height={601} />
      <Frame top={643} height={120} />
      <Frame top={763} height={120} />
      <div style={{ position: "absolute", left: 16, top: 630, width: 1146, borderTop: "2px dotted #a3a9b3", zIndex: 2 }} />
      <div style={{ position: "absolute", left: 16, top: 884, width: 1146, borderTop: "2px dotted #a3a9b3", zIndex: 2 }} />

      <TagLayer top={0} height={629} marginTop={28} domain={PRICE_DOMAIN} tags={priceTags} />
      <TagLayer top={643} height={120} marginTop={0} domain={RSI_DOMAIN} tags={rsiTags} />
      <TagLayer top={763} height={120} marginTop={0} domain={MACD_DOMAIN} tags={macdTags} />

      {/* price legend */}
      <div style={{ position: "absolute", left: 19, top: 29, fontSize: 10.5, lineHeight: "11px", zIndex: 3, whiteSpace: "nowrap" }}>
        <div style={{ color: "#111" }}>
          <span style={{ display: "inline-block", width: 9, fontSize: 9, fontWeight: 700 }}>₪</span> $HUI (Daily) 291.53
        </div>
        <div style={{ color: "#20208f" }}>{dash("#20208f")}MA(50) 296.07</div>
        <div style={{ color: "#111" }}>{dash("#111")}MA(200) 307.35</div>
        <div style={{ color: "#d7a24a" }}>{dash("#d7a24a", true)}MA(20) 296.77</div>
        <div style={{ color: "#20208f" }}>
          <span style={{ display: "inline-block", width: 9, height: 6, background: "#d4d6ee", marginRight: 1 }} />BB(20,2.0) 270.53 - 296.77 - 323.01
        </div>
        <div style={{ color: "#2f7a1e" }}>
          <span style={{ display: "inline-block", width: 9, height: 7, borderBottom: "2px solid #2f7a1e", background: "repeating-linear-gradient(90deg,#2f7a1e 0 2px,transparent 2px 3px)", marginRight: 1 }} />Volume undef
        </div>
      </div>

      {/* RSI legend */}
      <div style={{ position: "absolute", left: 19, top: 644, fontSize: 10.5, lineHeight: "11px", zIndex: 3, whiteSpace: "nowrap" }}>
        <div style={{ color: "#111" }}>
          <span style={{ display: "inline-block", width: 9, height: 7, background: "#e6c46a", marginRight: 2 }} />RSI(14) 48.04
        </div>
        <div style={{ color: "#1c1c8c" }}>{dash("#1c1c8c")}EMA(20) 44.99</div>
      </div>

      {/* MACD legend */}
      <div style={{ position: "absolute", left: 19, top: 765, fontSize: 10.5, lineHeight: "11px", zIndex: 3, whiteSpace: "nowrap" }}>
        {dash("#e3a423")}
        <span style={{ color: "#111" }}>MACD(12,26,9) </span>
        <span style={{ color: "#e3a423" }}>-4.675, </span>
        <span style={{ color: "#ee3a6c" }}>-3.729, </span>
        <span style={{ color: "#d8c277" }}>-0.946</span>
      </div>
    </div>
  );
}
